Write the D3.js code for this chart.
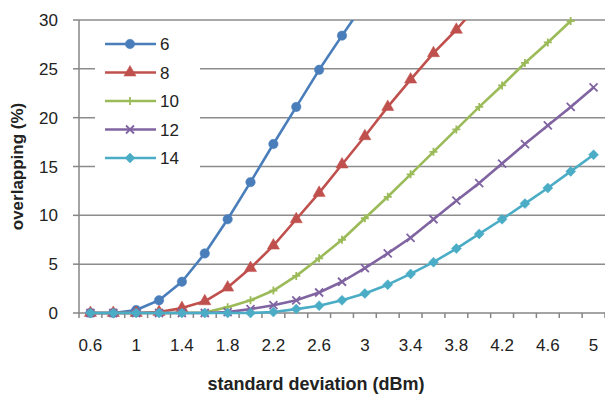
<!DOCTYPE html>
<html>
<head>
<meta charset="utf-8">
<script src="https://cdn.jsdelivr.net/npm/d3@7"></script>
<style>
  body { margin: 0; background: #fff; }
  svg { display: block; font-family: 'Liberation Sans', Arial, sans-serif; }
</style>
</head>
<body>
<div id="chart"></div>
<script>
const xValues = [0.6, 0.8, 1, 1.2, 1.4, 1.6, 1.8, 2, 2.2, 2.4, 2.6, 2.8, 3, 3.2, 3.4, 3.6, 3.8, 4, 4.2, 4.4, 4.6, 4.8, 5];
const xTickLabels = ['0.6', '1', '1.4', '1.8', '2.2', '2.6', '3', '3.4', '3.8', '4.2', '4.6', '5'];
const yTicks = [0, 5, 10, 15, 20, 25, 30];
const seriesNames = ['6', '8', '10', '12', '14'];

const s6 = [0, 0, 0.3, 1.3, 3.2, 6.1, 9.6, 13.4, 17.3, 21.1, 24.9, 28.4, 31.8];
const s8 = [0, 0, 0, 0.1, 0.5, 1.2, 2.6, 4.6, 6.9, 9.6, 12.3, 15.2, 18.1, 21.1, 23.9, 26.6, 29.0, 31.7];
const s10 = [0, 0, 0, 0, 0, 0.05, 0.6, 1.3, 2.3, 3.8, 5.6, 7.5, 9.7, 11.9, 14.2, 16.5, 18.8, 21.1, 23.3, 25.6, 27.7, 29.9, 32.0];
const s12 = [0, 0, 0, 0, 0, 0, 0.1, 0.4, 0.8, 1.3, 2.1, 3.2, 4.6, 6.1, 7.7, 9.6, 11.5, 13.3, 15.3, 17.3, 19.2, 21.1, 23.1];
const s14 = [0, 0, 0, 0, 0, 0, 0, 0, 0.1, 0.4, 0.75, 1.3, 2.0, 2.9, 4.0, 5.2, 6.6, 8.1, 9.6, 11.2, 12.8, 14.5, 16.2];

const seriesValues = [s6, s8, s10, s12, s14];
const colors = ['#4a7ebb', '#c0504d', '#9bbb59', '#8064a2', '#4bacc6'];
const markers = ['circle', 'triangle', 'plus', 'cross', 'diamond'];

const width = 605;
const height = 395;
const margin = { top: 20, right: 0, bottom: 82, left: 79 };
const innerWidth = width - margin.left - margin.right;
const innerHeight = height - margin.top - margin.bottom;
const axisColor = '#868686';
const textColor = '#222';

const svg = d3.select('#chart').append('svg')
  .attr('width', width)
  .attr('height', height);

const xScale = d3.scaleBand()
  .domain(xValues)
  .range([margin.left, margin.left + innerWidth]);

const yScale = d3.scaleLinear()
  .domain([0, 30])
  .range([margin.top + innerHeight, margin.top]);

const cx = (v) => xScale(v) + xScale.bandwidth() / 2;

// gridlines
svg.append('g')
  .selectAll('line')
  .data(yTicks.slice(1))
  .enter()
  .append('line')
  .attr('x1', margin.left)
  .attr('x2', width)
  .attr('y1', (d) => yScale(d))
  .attr('y2', (d) => yScale(d))
  .attr('stroke', '#8c8c8c')
  .attr('stroke-width', 1.5);

// y axis
const yAxisGroup = svg.append('g');
yAxisGroup.append('line')
  .attr('x1', margin.left)
  .attr('x2', margin.left)
  .attr('y1', yScale(30))
  .attr('y2', yScale(0))
  .attr('stroke', axisColor)
  .attr('stroke-width', 1.5);
yAxisGroup.selectAll('.ytick')
  .data(yTicks)
  .enter()
  .append('line')
  .attr('class', 'ytick')
  .attr('x1', margin.left - 6)
  .attr('x2', margin.left)
  .attr('y1', (d) => yScale(d))
  .attr('y2', (d) => yScale(d))
  .attr('stroke', axisColor)
  .attr('stroke-width', 1.5);
yAxisGroup.selectAll('.ylabel')
  .data(yTicks)
  .enter()
  .append('text')
  .attr('class', 'ylabel')
  .attr('x', margin.left - 21)
  .attr('y', (d) => yScale(d) + 6)
  .attr('text-anchor', 'end')
  .attr('font-size', 17)
  .attr('fill', textColor)
  .text((d) => d);

// x axis: ticks at category boundaries, labels every second category
const xAxisY = yScale(0);
const bounds = xValues.map((v) => xScale(v)).concat([margin.left + innerWidth]);
const xAxisGroup = svg.append('g');
xAxisGroup.append('line')
  .attr('x1', margin.left)
  .attr('x2', width)
  .attr('y1', xAxisY)
  .attr('y2', xAxisY)
  .attr('stroke', axisColor)
  .attr('stroke-width', 1.5);
xAxisGroup.selectAll('.xtick')
  .data(bounds)
  .enter()
  .append('line')
  .attr('class', 'xtick')
  .attr('x1', (d) => d)
  .attr('x2', (d) => d)
  .attr('y1', xAxisY)
  .attr('y2', xAxisY + 5)
  .attr('stroke', axisColor)
  .attr('stroke-width', 1.5);
xAxisGroup.selectAll('.xlabel')
  .data(xTickLabels)
  .enter()
  .append('text')
  .attr('class', 'xlabel')
  .attr('x', (d) => cx(+d))
  .attr('y', xAxisY + 38)
  .attr('text-anchor', 'middle')
  .attr('font-size', 17)
  .attr('fill', textColor)
  .text((d) => d);

// axis titles
svg.append('text')
  .attr('x', 316)
  .attr('y', 390)
  .attr('text-anchor', 'middle')
  .attr('font-size', 18)
  .attr('font-weight', 'bold')
  .attr('fill', textColor)
  .text('standard deviation (dBm)');

const yTitleX = 23;
const yTitleY = margin.top + innerHeight / 2;
svg.append('text')
  .attr('x', yTitleX)
  .attr('y', yTitleY)
  .attr('transform', `rotate(-90,${yTitleX},${yTitleY})`)
  .attr('text-anchor', 'middle')
  .attr('font-size', 17)
  .attr('font-weight', 'bold')
  .attr('fill', textColor)
  .text('overlapping (%)');

// clip for lines
svg.append('clipPath')
  .attr('id', 'plot-clip')
  .append('rect')
  .attr('x', margin.left)
  .attr('y', margin.top)
  .attr('width', innerWidth)
  .attr('height', innerHeight + 10);

const symbolFor = (type) => {
  if (type === 'circle') return d3.symbol(d3.symbolCircle, 70)();
  if (type === 'triangle') return d3.symbol(d3.symbolTriangle, 64)();
  if (type === 'diamond') return 'M0,-5L5,0L0,5L-5,0Z';
  if (type === 'plus') return 'M-4,0L4,0M0,-4L0,4';
  return 'M-4,-4L4,4M-4,4L4,-4';
};

const drawMarker = (g, type, color, x, y) => {
  const p = g.append('path')
    .attr('d', symbolFor(type))
    .attr('transform', `translate(${x},${y})`);
  if (type === 'plus' || type === 'cross') {
    p.attr('fill', 'none').attr('stroke', color).attr('stroke-width', 1.8);
  } else {
    p.attr('fill', color).attr('stroke', color).attr('stroke-width', 0.5);
  }
};

const line = d3.line()
  .x((d) => cx(d.x))
  .y((d) => yScale(d.y));

seriesValues.forEach((vals, i) => {
  const pts = vals.map((y, j) => ({ x: xValues[j], y }));
  const g = svg.append('g');
  g.append('path')
    .datum(pts)
    .attr('clip-path', 'url(#plot-clip)')
    .attr('fill', 'none')
    .attr('stroke', colors[i])
    .attr('stroke-width', 2.6)
    .attr('stroke-linejoin', 'round')
    .attr('d', line);
  pts.filter((d) => d.y <= 30).forEach((d) => {
    drawMarker(g, markers[i], colors[i], cx(d.x), yScale(d.y));
  });
});

// legend
const legend = svg.append('g');
legend.append('rect')
  .attr('x', 95)
  .attr('y', 25)
  .attr('width', 105)
  .attr('height', 145)
  .attr('fill', '#fff');

seriesNames.forEach((name, i) => {
  const y = 44 + i * 28.5;
  legend.append('line')
    .attr('x1', 105)
    .attr('x2', 156)
    .attr('y1', y)
    .attr('y2', y)
    .attr('stroke', colors[i])
    .attr('stroke-width', 2.6);
  drawMarker(legend, markers[i], colors[i], 130, y);
  legend.append('text')
    .attr('x', 160)
    .attr('y', y + 6)
    .attr('font-size', 17)
    .attr('fill', textColor)
    .text(name);
});
</script>
</body>
</html>
